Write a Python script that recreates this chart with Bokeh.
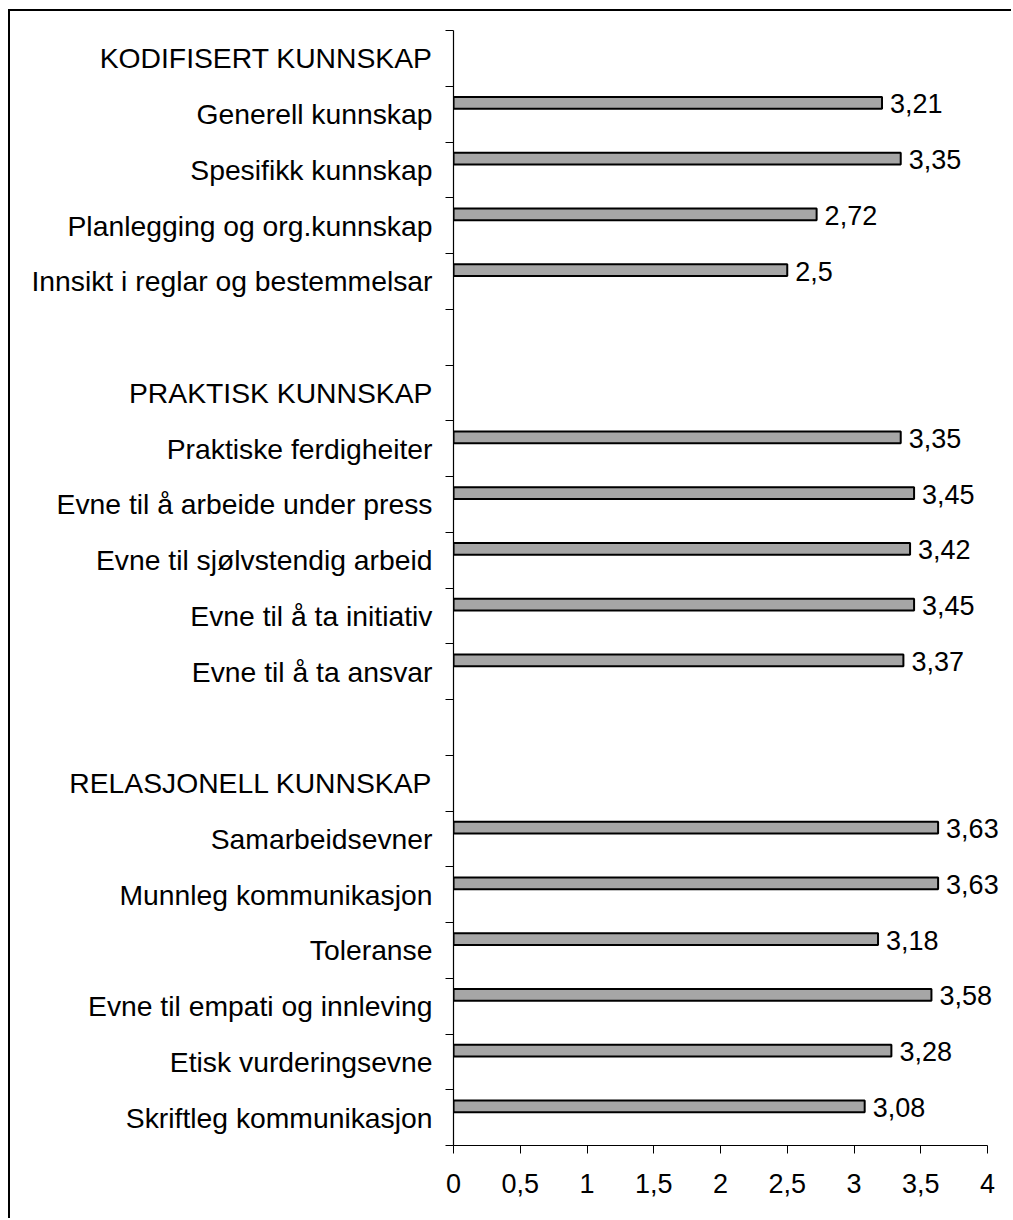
from bokeh.plotting import figure
from bokeh.models import Range1d, FixedTicker, ColumnDataSource, CustomJSTickFormatter
from bokeh.core.properties import value
from bokeh.embed import file_html
from bokeh.resources import INLINE

categories = [
    "KODIFISERT KUNNSKAP",
    "Generell kunnskap",
    "Spesifikk kunnskap",
    "Planlegging og org.kunnskap",
    "Innsikt i reglar og bestemmelsar",
    "",
    "PRAKTISK KUNNSKAP",
    "Praktiske ferdigheiter",
    "Evne til å arbeide under press",
    "Evne til sjølvstendig arbeid",
    "Evne til å ta initiativ",
    "Evne til å ta ansvar",
    "",
    "RELASJONELL KUNNSKAP",
    "Samarbeidsevner",
    "Munnleg kommunikasjon",
    "Toleranse",
    "Evne til empati og innleving",
    "Etisk vurderingsevne",
    "Skriftleg kommunikasjon",
]
values = [None, 3.21, 3.35, 2.72, 2.5, None,
          None, 3.35, 3.45, 3.42, 3.45, 3.37, None,
          None, 3.63, 3.63, 3.18, 3.58, 3.28, 3.08]
x_ticks = [0, 0.5, 1, 1.5, 2, 2.5, 3, 3.5, 4]

FONT = "Liberation Sans"
n = len(categories)

bar_y, bar_v, bar_lbl = [], [], []
for i, v in enumerate(values):
    if v is not None:
        bar_y.append(i + 0.5 - 0.2)
        bar_v.append(v)
        bar_lbl.append(str(v).replace(".", ","))
src = ColumnDataSource(dict(y=bar_y, v=bar_v, lbl=bar_lbl))

FIG_W, LEFT = 1003, 443
AXIS_PX = 534  # pixel length of the 0..4 axis
x_end = 4 * (FIG_W - LEFT) / AXIS_PX  # frame reaches the right edge so labels are not clipped

p = figure(width=FIG_W, height=1209, output_backend="svg", toolbar_location=None,
           x_range=Range1d(0, x_end), y_range=Range1d(n, 0),
           min_border_left=LEFT, min_border_right=0, min_border_top=19, min_border_bottom=75)
p.margin = (9, 0, 0, 8)
p.styles = {"border-left": "2px solid black", "border-top": "2px solid black"}
p.outline_line_color = None
p.xgrid.visible = False
p.ygrid.visible = False
p.background_fill_color = "white"
p.border_fill_color = "white"

p.hbar(y="y", left=0, right="v", height=0.21, source=src,
       fill_color="#a6a6a6", line_color="black", line_width=2)
p.text(x="v", y="y", text="lbl", source=src, x_offset=8, y_offset=1,
       text_baseline="middle", text_align="left",
       text_font=value(FONT), text_font_size="27px", text_color="black")

# y axis
ya = p.yaxis[0]
ya.ticker = FixedTicker(ticks=[i + 0.5 for i in range(n)], minor_ticks=list(range(n + 1)))
ya.major_label_overrides = {i + 0.5: categories[i] for i in range(n)}
ya.major_tick_out = 0
ya.major_tick_in = 0
ya.minor_tick_out = 8
ya.minor_tick_in = 0
ya.minor_tick_line_color = "black"
ya.axis_line_color = "black"
ya.axis_line_width = 1.2
ya.major_label_standoff = 13
ya.major_label_text_font = FONT
ya.major_label_text_font_size = "28.3px"
ya.major_label_text_color = "black"

# x axis
xa = p.xaxis[0]
xa.bounds = (0, 4)
xa.ticker = FixedTicker(ticks=x_ticks, minor_ticks=[])
xa.formatter = CustomJSTickFormatter(code="return tick.toString().replace('.', ',');")
xa.major_tick_out = 8
xa.major_tick_in = 0
xa.major_tick_line_color = "black"
xa.axis_line_color = "black"
xa.axis_line_width = 1.2
xa.major_label_standoff = 20
xa.major_label_text_font = FONT
xa.major_label_text_font_size = "27px"
xa.major_label_text_color = "black"

open("out.html", "w").write(file_html(p, INLINE))
